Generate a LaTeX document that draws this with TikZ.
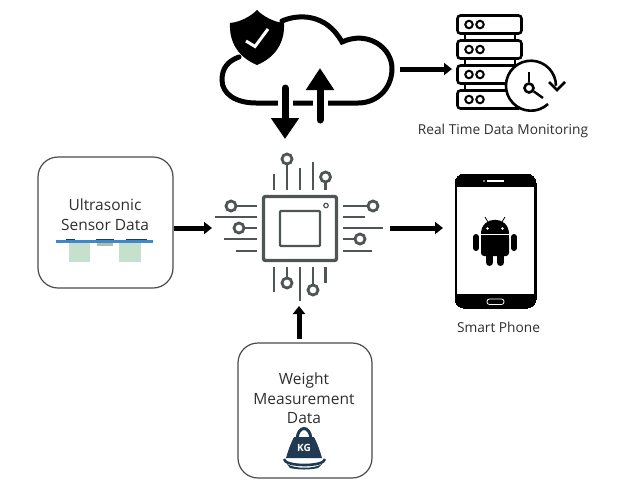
\documentclass[tikz,border=0pt]{standalone}
\usepackage{fontspec}
\setmainfont{Open Sans}
\usetikzlibrary{arrows.meta}
\usetikzlibrary{calc}

\definecolor{pincol}{HTML}{4F5555}
\definecolor{boxcol}{HTML}{4A4A4A}
\definecolor{textcol}{HTML}{2E2E2E}
\definecolor{kgcol}{HTML}{1F3A52}
\definecolor{barcol}{HTML}{3F88CC}
\definecolor{padcol}{HTML}{C6E0CE}

\tikzset{
    databox/.style={draw=boxcol, line width=1.2pt, rounded corners=20pt, inner sep=0pt},
    lbl/.style={text=textcol, font=\fontsize{15.5}{15.5}\selectfont, inner sep=0pt},
    caption/.style={text=textcol, font=\fontsize{13.7}{14}\selectfont, inner sep=0pt},
    bigarrow/.style={line width=5pt, -{Triangle[length=8pt,width=12pt]}},
    pin/.style={pincol, line width=2.4pt},
    pad/.style={circle, draw=pincol, line width=2.8pt, fill=white, minimum size=10pt, inner sep=0pt},
    rack/.style={draw=black, line width=2.6pt, fill=white, rounded corners=3pt, minimum width=64pt, minimum height=18pt, inner sep=0pt},
    led/.style={circle, draw=black, line width=2pt, minimum size=7.5pt, inner sep=0pt},
}

\begin{document}
\begin{tikzpicture}[x=1pt,y=-1pt]
    \useasboundingbox (0,0) rectangle (632,485);

    % boxes
    \node[databox, minimum width=135pt, minimum height=131pt] (sensor) at (105.5,222.5) {};
    \node[databox, minimum width=134pt, minimum height=135pt] (weight) at (305,410.5) {};
    \node[lbl] (sensorone) at (105,205) {Ultrasonic};
    \node[lbl] (sensortwo) at (105,225) {Sensor Data};
    \node[lbl] (weightone) at (304,380) {Weight};
    \node[lbl] (weighttwo) at (304,399) {Measurement};
    \node[lbl] (weightthree) at (304,418) {Data};

    % sensor picture
    \fill[padcol] (69,243) rectangle (90,262);
    \fill[padcol] (119,243) rectangle (141,262);
    \fill[padcol!85!black] (97,243) rectangle (113,246);
    \fill[barcol] (56,239.5) rectangle (153,242.5);
    \fill[kgcol] (66,238.5) rectangle (75,240);
    \fill[kgcol] (96,238.5) rectangle (114,240);
    \fill[kgcol] (126,238.5) rectangle (147,240);

    % weight picture
    \draw[kgcol, line width=3pt] (297,439) .. controls (298,425) and (310,425) .. (311,439);
    \fill[kgcol] (294,437) -- (314,437) .. controls (318,445) and (320,451) .. (322,458) -- (286,458) .. controls (288,451) and (290,445) .. (294,437) -- cycle;
    \node[text=white, font=\bfseries\fontsize{10}{10}\selectfont, inner sep=0pt] (kg) at (304,448) {KG};
    \draw[kgcol, line width=2.6pt] (284,459) .. controls (284,467) and (325,467) .. (325,459);
    \fill[kgcol] (287,464) .. controls (295,469) and (314,469) .. (322,464) -- (318,468) .. controls (310,470) and (298,470) .. (290,468) -- cycle;

    % chip
    \node[draw=pincol, line width=3.4pt, rounded corners=2pt, minimum width=73pt, minimum height=64pt, inner sep=0pt] (chip) at (300,228.5) {};
    \node[draw=pincol, line width=2.4pt, rounded corners=1pt, minimum width=40pt, minimum height=35pt, inner sep=0pt] (core) at (300,228.5) {};
    \node[circle, draw=pincol, line width=1.2pt, minimum size=4.5pt, inner sep=0pt] (dot) at (326,205.5) {};

    \foreach \px/\py in {274/174, 300/168, 313/162}
        \draw[pin] (\px,\py) -- (\px,190);
    \foreach \px/\py in {274/292, 300/301, 325.5/283}
        \draw[pin] (\px,267) -- (\px,\py);
    \foreach \py/\px in {217/215, 239/224, 251/236}
        \draw[pin] (\px,\py) -- (257,\py);
    \foreach \py/\px in {217/365, 228/383, 251/372}
        \draw[pin] (343,\py) -- (\px,\py);

    \node[pad] (pa) at (287,159) {};
    \node[pad] (pb) at (325.5,177) {};
    \node[pad] (pc) at (231,206) {};
    \node[pad] (pd) at (239,228) {};
    \node[pad] (pe) at (373,206) {};
    \node[pad] (pf) at (360,239) {};
    \node[pad] (pg) at (287,283) {};
    \node[pad] (ph) at (313,290) {};
    \draw[pin] (pa) -- (287,190);
    \draw[pin] (pb) -- (325.5,190);
    \draw[pin] (pc) -- (257,206);
    \draw[pin] (pd) -- (257,228);
    \draw[pin] (pe) -- (343,206);
    \draw[pin] (pf) -- (343,239);
    \draw[pin] (pg) -- (287,267);
    \draw[pin] (ph) -- (313,267);

    % cloud
    \node[minimum width=172pt, minimum height=86pt, inner sep=0pt] (cloud) at (307,60) {};
    \draw[black, line width=5pt, line cap=round] (282,21) .. controls (298,14) and (326,13) .. (342,42)
        .. controls (368,30) and (393,48) .. (392,70)
        .. controls (391,90) and (376,103) .. (358,103) -- (256,103)
        .. controls (236,103) and (222,94) .. (222,80)
        .. controls (222,68) and (228,61) .. (239,57);

    % shield
    \fill[black] (257,10) .. controls (264,17) and (274,22) .. (284,23)
        .. controls (285,42) and (276,57) .. (257,65)
        .. controls (238,57) and (229,42) .. (230,23)
        .. controls (240,22) and (250,17) .. (257,10) -- cycle;
    \draw[white, line width=3pt] (246,41) -- (255,46.5) -- (268,29);

    % cloud arrows
    \coordinate (downtop) at (285,88);
    \coordinate (downtip) at (285,139);
    \coordinate (uptail) at (320,120);
    \coordinate (uptip) at (320,68);
    \fill[white] (277.5,100) rectangle (292.5,106);
    \fill[white] (312.5,100) rectangle (327.5,106);
    \draw[line width=7pt, line cap=round, -{Triangle[length=21pt,width=27pt]}] (downtop) to (downtip);
    \draw[line width=7pt, line cap=round, -{Triangle[length=22pt,width=27pt]}] (uptail) to (uptip);

    % server
    \node[minimum width=65pt, minimum height=94pt, inner sep=0pt] (server) at (489.5,62) {};
    \foreach \py in {32,58,82} {
        \draw[black, line width=2pt] (465,\py) -- (465,\py+10);
        \draw[black, line width=2pt] (515,\py) -- (515,\py+10);
    }
    \foreach \py in {24.5,49.5,74.5,99.5} {
        \node[rack] at (489.5,\py) {};
        \node[led] at (469,\py) {};
        \node[led] at (480,\py) {};
    }

    % clock
    \node[circle, fill=white, minimum size=50pt, inner sep=0pt] (clock) at (531,86) {};
    \draw[black, line width=2.6pt] (548,104) arc (-47:-360:25pt);
    \draw[black, line width=2.6pt] (549,82) -- (557,90) -- (565,82);
    \node[circle, draw=black, line width=2.6pt, minimum size=9pt, inner sep=0pt] (hub) at (529,88) {};
    \draw[black, line width=2.4pt] (hub) -- (529,72);
    \draw[black, line width=2.4pt] (hub) -- (543,98);
    \node[caption] (servertext) at (503,131) {Real Time Data Monitoring};

    % phone
    \node[draw=black, fill=black, line width=0pt, rounded corners=9pt, minimum width=81pt, minimum height=134pt, inner sep=0pt] (phone) at (495.5,241) {};
    \fill[white] (457,187) rectangle (534,294);
    \draw[white, line width=1.2pt] (487,181) -- (504,181);
    \fill[white] (484,181) circle (0.8pt);
    \draw[white, line width=0.8pt, rounded corners=2.5pt] (487,299) rectangle (504,304.5);

    % android
    \fill[black] (481,233.5) .. controls (481,215) and (509,215) .. (509,233.5) -- cycle;
    \fill[white] (487.5,228.5) circle (1.4pt);
    \fill[white] (502.5,228.5) circle (1.4pt);
    \draw[black, line width=0.8pt] (488,222) -- (485,217);
    \draw[black, line width=0.8pt] (502,222) -- (505,217);
    \fill[black, rounded corners=3pt] (481,235) rectangle (509,256);
    \fill[black] (481,235) rectangle (509,248);
    \draw[black, line width=6pt, line cap=round] (476,237) -- (476,248);
    \draw[black, line width=6pt, line cap=round] (514,237) -- (514,248);
    \draw[black, line width=7pt, line cap=round] (489.5,252) -- (489.5,262.5);
    \draw[black, line width=7pt, line cap=round] (500.5,252) -- (500.5,262.5);
    \node[caption] (phonetext) at (498.5,327) {Smart Phone};

    % arrows
    \coordinate (chipleft) at (212,228);
    \coordinate (chipright) at (390,228);
    \coordinate (phoneleft) at (443,228);
    \coordinate (weighttop) at (299,339);
    \coordinate (chipbottom) at (299,306);
    \coordinate (cloudright) at (400,69);
    \coordinate (serverleft) at (452,69);
    \draw[bigarrow] (sensor.east |- chipleft) to (chipleft);
    \draw[bigarrow] (chipright) to (phoneleft);
    \draw[bigarrow] (weighttop) to (chipbottom);
    \draw[bigarrow] (cloudright) to (serverleft);
\end{tikzpicture}
\end{document}
